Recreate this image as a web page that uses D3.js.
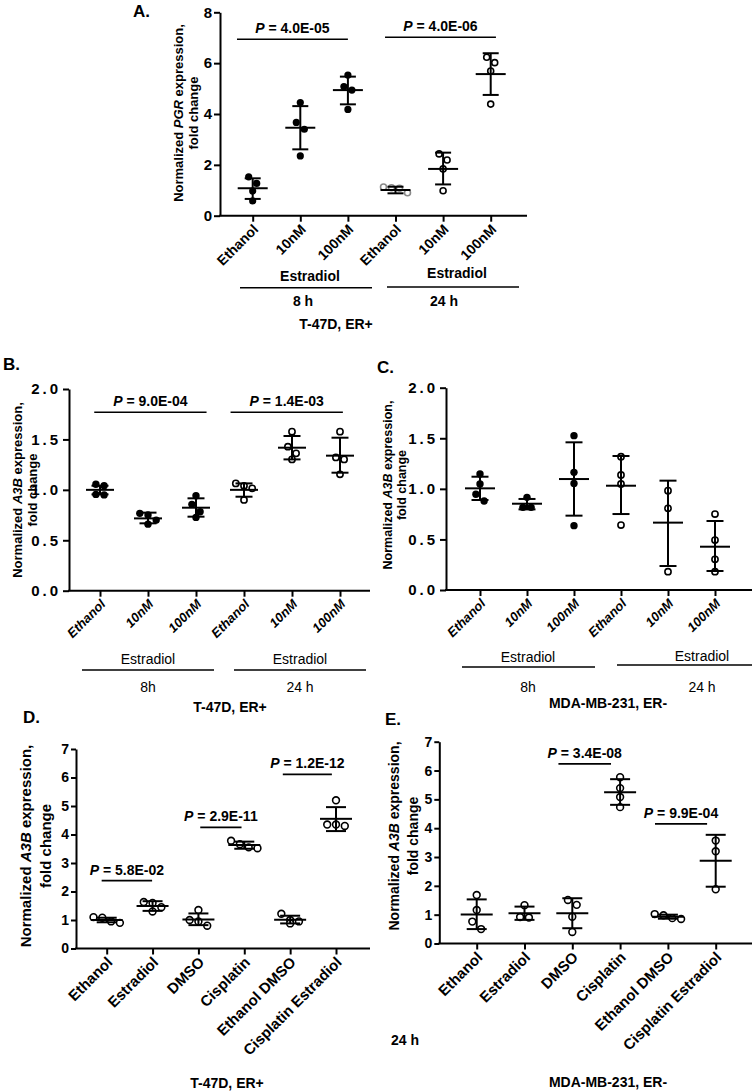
<!DOCTYPE html>
<html><head><meta charset="utf-8">
<script src="https://cdn.jsdelivr.net/npm/d3@7"></script>
<style>html,body{margin:0;padding:0;background:#fff;} svg{display:block;}</style>
</head><body><svg id="c" width="752" height="1091"></svg>
<script>
// ---------------- DATA ----------------
const catsEstr = ["Ethanol","10nM","100nM","Ethanol","10nM","100nM"];
const catsTreat = ["Ethanol","Estradiol","DMSO","Cisplatin","Ethanol DMSO","Cisplatin Estradiol"];

// Panel A: PGR, T-47D
const aPoints = [[1.53,1.27,0.97,0.58],[4.45,3.67,3.40,2.35],[5.53,5.08,4.94,4.18],[1.10,1.13,1.08,0.90],[2.43,2.19,1.84,0.98],[6.23,6.02,5.69,4.39]];
const aMean = [1.08,3.46,4.94,1.01,1.84,5.57];
const aLo   = [0.66,2.61,4.38,0.88,1.23,4.75];
const aHi   = [1.47,4.31,5.47,1.14,2.48,6.39];
const aFilled = [1,1,1,0,0,0];
const aPText = ["4.0E-05","4.0E-06"];
const aPSpan = [[-0.33,2.0],[2.78,5.11]];
const aPLevel = [6.94,7.02];
const aTicks = [0,2,4,6,8];

// Panel B: A3B, T-47D
const bPoints = [[1.04,1.055,0.95,0.955],[0.75,0.767,0.66,0.70],[0.942,0.856,0.783,0.727],[1.064,1.04,1.015,0.90],[1.577,1.428,1.362,1.302],[1.577,1.322,1.302,1.154]];
const bMean = [1.0,0.717,0.823,1.0,1.418,1.339];
const bLo   = [0.955,0.668,0.734,0.932,1.302,1.17];
const bHi   = [1.041,0.774,0.916,1.064,1.534,1.517];
const bFilled = [1,1,1,0,0,0];
const bPText = ["9.0E-04","1.4E-03"];
const bPSpan = [[-0.12,2.22],[2.72,5.06]];
const bPLevel = [1.77,1.77];
const bcTicks = [0,0.5,1.0,1.5,2.0];

// Panel C: A3B, MDA-MB-231
const cPoints = [[1.147,1.048,0.946,0.880],[0.916,0.817,0.817],[1.526,1.163,1.054,0.636],[1.318,1.137,1.048,0.642],[0.982,0.807,0.181],[0.751,0.494,0.303,0.181]];
const cMean = [1.005,0.853,1.097,1.031,0.666,0.428];
const cLo   = [0.89,0.797,0.735,0.751,0.237,0.188];
const cHi   = [1.12,0.90,1.46,1.325,1.081,0.682];
const cFilled = [1,1,1,0,0,0];

// Panel D: A3B, T-47D, 24 h
const dPoints = [[1.08,1.10,0.95,0.90],[1.60,1.63,1.30,1.45],[1.35,1.0,0.95,0.80],[3.78,3.66,3.52,3.55],[1.22,1.0,0.95,0.88],[5.20,4.35,4.30,4.35]];
const dMean = [1.0,1.495,1.02,3.63,1.01,4.55];
const dLo   = [0.92,1.32,0.82,3.50,0.88,4.12];
const dHi   = [1.08,1.66,1.23,3.75,1.15,4.96];
const dPText = ["5.8E-02","2.9E-11","1.2E-12"];
const dPSpan = [[-0.11,0.99],[2.04,2.94],[3.84,4.91]];
const dPLevel = [2.38,4.25,6.11];
const deTicks = [0,1,2,3,4,5,6,7];

// Panel E: A3B, MDA-MB-231, 24 h
const ePoints = [[1.68,1.16,0.76,0.50],[1.33,0.90,0.92],[1.51,1.34,0.93,0.40],[5.77,5.39,5.08,4.73],[0.98,1.02,0.88,0.85],[3.57,3.20,1.88]];
const eMean = [1.01,1.05,1.05,5.25,0.93,2.87];
const eLo   = [0.50,0.82,0.53,4.81,0.86,1.97];
const eHi   = [1.53,1.28,1.57,5.70,1.00,3.77];
const ePText = ["3.4E-08","9.9E-04"];
const ePSpan = [[1.71,2.81],[3.73,4.82]];
const ePLevel = [6.23,4.15];

// ---------------- DRAWING ----------------
const FONT = '"Liberation Sans", Arial, Helvetica, sans-serif';
const svg = d3.select("#c").style("font-family", FONT);

// row-based scatter layout (points of similar height share a centred row)
function swarm(vals, y, r) {
  const order = d3.range(vals.length).sort((a,b)=>vals[b]-vals[a]);
  const off = new Array(vals.length).fill(0);
  const rows = [];
  for (const i of order) {
    const py = y(vals[i]);
    const last = rows[rows.length-1];
    if (last && Math.abs(py - last.y0) < 2*r) last.items.push(i);
    else rows.push({y0: py, items:[i]});
  }
  const sp = 2*r + 0.8;
  rows.forEach(row => {
    const n = row.items.length;
    row.items.forEach((i, j) => { off[i] = (j - (n-1)/2) * sp; });
  });
  return off;
}

function txt(g, x, y, s, opt) {
  opt = opt || {};
  const t = g.append("text").attr("x", x).attr("y", y)
    .attr("text-anchor", opt.anchor || "middle")
    .attr("font-size", opt.size || 14)
    .attr("font-weight", opt.weight || "bold")
    .attr("fill", "#000");
  if (opt.style) t.attr("font-style", opt.style);
  t.text(s);
  return t;
}

function pText(g, x, y, val, size) {
  const t = g.append("text").attr("x", x).attr("y", y).attr("text-anchor","middle")
    .attr("font-size", size).attr("font-weight","bold");
  t.append("tspan").attr("font-style","italic").text("P");
  t.append("tspan").text(" = " + val);
}

function yLabel(g, x1, x2, cy, size, gene) {
  const t1 = g.append("text").attr("transform",`translate(${x1},${cy}) rotate(-90)`)
    .attr("text-anchor","middle").attr("dy","0.35em").attr("font-size",size).attr("font-weight","bold");
  t1.append("tspan").text("Normalized ");
  t1.append("tspan").attr("font-style","italic").text(gene);
  t1.append("tspan").text(" expression,");
  g.append("text").attr("transform",`translate(${x2},${cy}) rotate(-90)`)
    .attr("text-anchor","middle").attr("dy","0.35em").attr("font-size",size).attr("font-weight","bold")
    .text("fold change");
}

function drawPanel(L, cats, pts, mean, lo, hi, filled, pTexts, pSpans, pLevels, ticks) {
  const g = svg.append("g");
  const y = d3.scaleLinear().domain([0, L.yMax]).range([L.yBottom, L.yTop]);
  const x = d3.scalePoint().domain(d3.range(cats.length)).range([L.xFirst, L.xLast]);

  // y axis
  const ya = d3.axisLeft(y).tickValues(ticks).tickFormat(L.fmt).tickSize(L.tickLen).tickPadding(L.tickPad).tickSizeOuter(0);
  const yg = g.append("g").attr("transform",`translate(${L.yAxisX},0)`).call(ya);
  yg.select(".domain").attr("stroke","#000").attr("stroke-width",2);
  yg.selectAll(".tick line").attr("stroke","#000").attr("stroke-width",2);
  yg.selectAll(".tick text").attr("font-family",FONT).attr("font-size",L.tickFont).attr("font-weight","bold")
    .attr("fill","#000").style("letter-spacing", L.letterSpacing || "0px");

  // x axis
  const xa = d3.axisBottom(x).tickSize(6).tickFormat("");
  const xg = g.append("g").attr("transform",`translate(0,${L.yBottom})`).call(xa);
  xg.select(".domain").remove();
  xg.selectAll(".tick line").attr("stroke","#000").attr("stroke-width",2);
  g.append("line").attr("x1", L.yAxisX-1).attr("x2", L.xEnd).attr("y1", L.yBottom).attr("y2", L.yBottom)
    .attr("stroke","#000").attr("stroke-width",2);

  // rotated category labels
  g.selectAll("text.cat").data(cats).join("text").attr("class","cat")
    .attr("transform",(d,i)=>`translate(${x(i)+L.labDx},${L.yBottom+L.labDy}) rotate(-45)`)
    .attr("text-anchor","end").attr("dy","0.35em")
    .attr("font-size", L.labFont).attr("font-weight","bold")
    .attr("font-style", L.labItalic ? "italic" : "normal")
    .text(d=>d);

  // points
  pts.forEach((vals, i) => {
    const off = swarm(vals, y, L.r);
    const grey = L.greyIdx === i;
    g.selectAll(null).data(vals).join("circle")
      .attr("cx",(d,j)=>x(i)+off[j]).attr("cy",d=>y(d)).attr("r", filled[i] ? L.r : L.r-0.6)
      .attr("fill", filled[i] ? "#000" : "#fff")
      .attr("stroke", grey ? "#8a8a8a" : "#000").attr("stroke-width", filled[i] ? 0 : 1.6);
  });

  // mean and SD
  cats.forEach((c, i) => {
    const cx = x(i);
    g.append("line").attr("x1",cx).attr("x2",cx).attr("y1",y(lo[i])).attr("y2",y(hi[i]))
      .attr("stroke","#000").attr("stroke-width",2);
    [lo[i], hi[i]].forEach(v => g.append("line").attr("x1",cx-L.capW).attr("x2",cx+L.capW)
      .attr("y1",y(v)).attr("y2",y(v)).attr("stroke","#000").attr("stroke-width",2));
    g.append("line").attr("x1",cx-L.meanW).attr("x2",cx+L.meanW).attr("y1",y(mean[i])).attr("y2",y(mean[i]))
      .attr("stroke","#000").attr("stroke-width",2);
  });

  // P value brackets
  const xf = d3.scaleLinear().domain([0, cats.length-1]).range([L.xFirst, L.xLast]);
  (pTexts||[]).forEach((p, k) => {
    const x1 = xf(pSpans[k][0]), x2 = xf(pSpans[k][1]), yy = y(pLevels[k]);
    g.append("line").attr("x1",x1).attr("x2",x2).attr("y1",yy).attr("y2",yy).attr("stroke","#000").attr("stroke-width",1.6);
    pText(g, (x1+x2)/2, yy - 6, p, 14);
  });
  return g;
}

// Panel A
drawPanel({yMax:8, yBottom:215.7, yTop:12.3, yAxisX:220, xFirst:252.7, xLast:490.7, xEnd:527,
  fmt:d3.format("d"), tickLen:6, tickPad:2, tickFont:15, labDx:3, labDy:11, labFont:14, labItalic:false,
  r:3.6, capW:8, meanW:15, greyIdx:3},
  catsEstr, aPoints, aMean, aLo, aHi, aFilled, aPText, aPSpan, aPLevel, aTicks);
// Panel B
drawPanel({yMax:2, yBottom:590.7, yTop:389, yAxisX:69, xFirst:100, xLast:340, xEnd:370,
  fmt:d3.format(".1f"), tickLen:6, tickPad:2, tickFont:15, letterSpacing:"3px", labDx:3, labDy:11, labFont:13, labItalic:true,
  r:3.7, capW:8.5, meanW:14},
  catsEstr, bPoints, bMean, bLo, bHi, bFilled, bPText, bPSpan, bPLevel, bcTicks);
// Panel C
drawPanel({yMax:2, yBottom:590, yTop:387.7, yAxisX:446, xFirst:480, xLast:715, xEnd:752,
  fmt:d3.format(".1f"), tickLen:6, tickPad:2, tickFont:15, letterSpacing:"3px", labDx:3, labDy:11, labFont:13, labItalic:true,
  r:3.7, capW:8.5, meanW:15},
  catsEstr, cPoints, cMean, cLo, cHi, cFilled, null, null, null, bcTicks);
// Panel D
drawPanel({yMax:7, yBottom:948.5, yTop:749, yAxisX:76, xFirst:106.7, xLast:336, xEnd:370,
  fmt:d3.format("d"), tickLen:5, tickPad:2, tickFont:14, labDx:3, labDy:11, labFont:15, labItalic:false,
  r:4, capW:10, meanW:16},
  catsTreat, dPoints, dMean, dLo, dHi, [0,0,0,0,0,0], dPText, dPSpan, dPLevel, deTicks);
// Panel E
drawPanel({yMax:7, yBottom:943.5, yTop:741.7, yAxisX:439.3, xFirst:476.7, xLast:715.7, xEnd:752,
  fmt:d3.format("d"), tickLen:5, tickPad:2, tickFont:14, labDx:3, labDy:11, labFont:15, labItalic:false,
  r:4, capW:10, meanW:16},
  catsTreat, ePoints, eMean, eLo, eHi, [0,0,0,0,0,0], ePText, ePSpan, ePLevel, deTicks);

// ---- static text: panel letters, axis titles, group labels ----
const T = svg.append("g");
txt(T, 133, 17, "A.", {anchor:"start", size:17});
txt(T, 3, 370, "B.", {anchor:"start", size:17});
txt(T, 377, 373, "C.", {anchor:"start", size:17});
txt(T, 23, 723, "D.", {anchor:"start", size:17});
txt(T, 385, 725, "E.", {anchor:"start", size:17});

yLabel(T, 178, 193, 113, 13, "PGR");
yLabel(T, 17, 32, 490, 13, "A3B");
yLabel(T, 388, 402, 485, 12.5, "A3B");
yLabel(T, 26, 46, 846, 15, "A3B");
yLabel(T, 394, 413, 836, 14, "A3B");

function hline(x1, x2, yy){ T.append("line").attr("x1",x1).attr("x2",x2).attr("y1",yy).attr("y2",yy).attr("stroke","#000").attr("stroke-width",1.4); }

// A groups
txt(T, 310, 281, "Estradiol", {size:14});
hline(240, 372, 287.7);
txt(T, 303, 306, "8 h", {size:14});
txt(T, 457, 278, "Estradiol", {size:14});
hline(387, 519, 287);
txt(T, 444, 306, "24 h", {size:14});
txt(T, 336, 329, "T-47D, ER+", {size:14});

// B groups
txt(T, 148, 664, "Estradiol", {size:14, weight:"normal"});
hline(82, 214, 670);
txt(T, 148, 692, "8h", {size:14, weight:"normal"});
txt(T, 300, 664, "Estradiol", {size:14, weight:"normal"});
hline(234, 366, 670);
txt(T, 300, 692, "24 h", {size:14, weight:"normal"});
txt(T, 230, 712, "T-47D, ER+", {size:14});

// C groups
txt(T, 528, 662, "Estradiol", {size:14, weight:"normal"});
hline(462, 595, 667);
txt(T, 528, 692, "8h", {size:14, weight:"normal"});
txt(T, 702, 661, "Estradiol", {size:14, weight:"normal"});
hline(617, 752, 665);
txt(T, 702, 692, "24 h", {size:14, weight:"normal"});
txt(T, 608, 708, "MDA-MB-231, ER-", {size:14});

// D/E bottom
txt(T, 405, 1045, "24 h", {size:14});
txt(T, 227, 1088, "T-47D, ER+", {size:14});
txt(T, 608, 1087, "MDA-MB-231, ER-", {size:14});
</script>
</body></html>
